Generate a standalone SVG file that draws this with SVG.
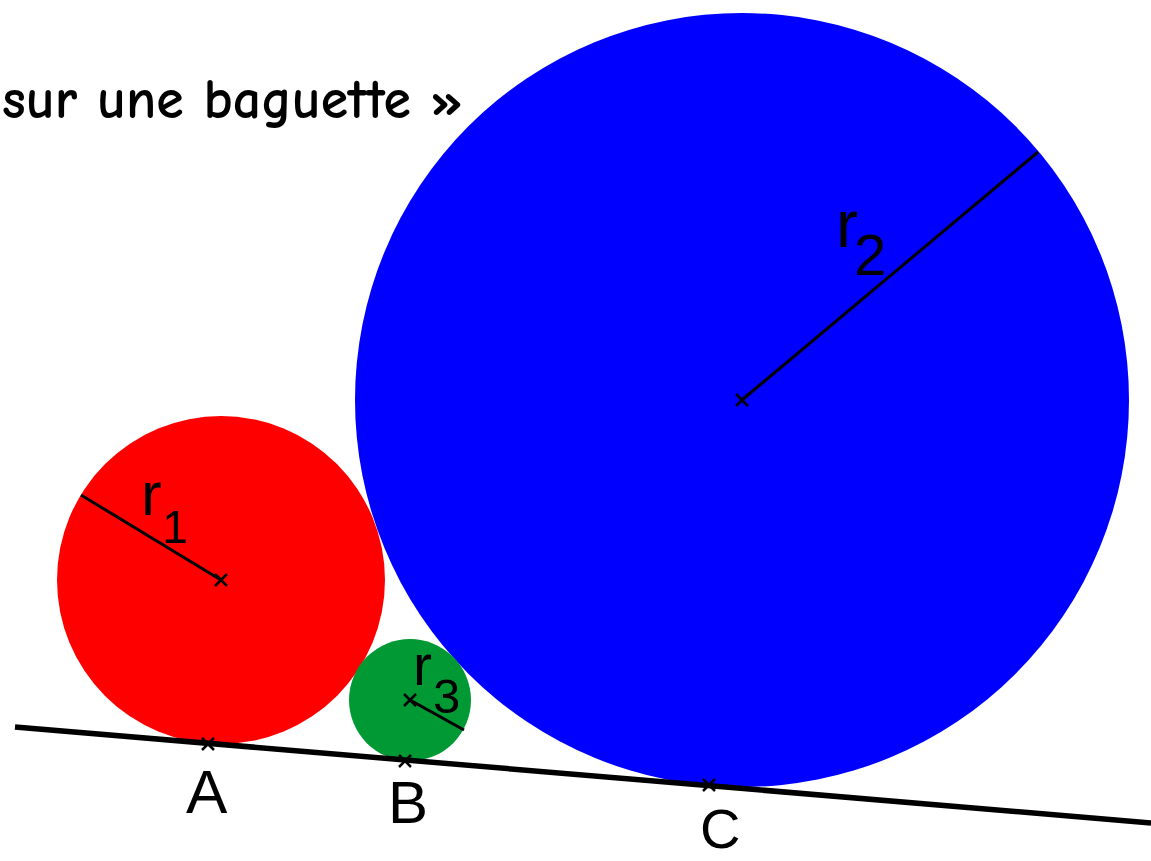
<svg xmlns="http://www.w3.org/2000/svg" width="1151" height="861" viewBox="0 0 1151 861">
<style>
.lbl{font-family:"Liberation Sans",Arial,sans-serif;fill:#000}
.rad{stroke:#000;stroke-width:3;fill:none}
.x{stroke:#000;stroke-width:2.5;fill:none}
</style>
<defs>
<path id="cross" d="M-6,-6 L6,6 M-6,6 L6,-6"/>
</defs>
<rect width="1151" height="861" fill="#fff"/>
<text x="2" y="118" font-family="'Comic Neue','Liberation Sans',sans-serif" font-size="56" font-weight="bold" textLength="461" lengthAdjust="spacingAndGlyphs" fill="#000">sur une baguette »</text>
<g id="circle1">
<circle cx="221" cy="580" r="164" fill="#ff0000"/>
<line class="rad" x1="81" y1="495" x2="221" y2="580"/>
<use href="#cross" class="x" x="221" y="580"/>
<text class="lbl" x="141" y="515" font-size="62">r</text>
<text class="lbl" x="162" y="543" font-size="46">1</text>
</g>
<g id="circle2">
<circle cx="742" cy="400" r="387" fill="#0000ff"/>
<line class="rad" x1="742" y1="400" x2="1038" y2="152"/>
<use href="#cross" class="x" x="742" y="400"/>
<text class="lbl" x="836" y="247" font-size="66">r</text>
<text class="lbl" x="854" y="275" font-size="58">2</text>
</g>
<g id="circle3">
<circle cx="410" cy="700" r="61" fill="#009933"/>
<line class="rad" x1="410" y1="700" x2="464" y2="730"/>
<use href="#cross" class="x" x="410" y="700"/>
<text class="lbl" x="413" y="685" font-size="57">r</text>
<text class="lbl" x="433" y="713" font-size="49">3</text>
</g>
<g id="connectors">
<line x1="15" y1="727" x2="1151" y2="823" stroke="#000" stroke-width="5.5"/>
</g>
<g id="pointA">
<use href="#cross" class="x" x="208" y="744"/>
<text class="lbl" x="186" y="813" font-size="62">A</text>
</g>
<g id="pointB">
<use href="#cross" class="x" x="405" y="761"/>
<text class="lbl" x="388" y="823" font-size="60">B</text>
</g>
<g id="pointC">
<use href="#cross" class="x" x="709" y="785"/>
<text class="lbl" x="700" y="848" font-size="56">C</text>
</g>
</svg>
